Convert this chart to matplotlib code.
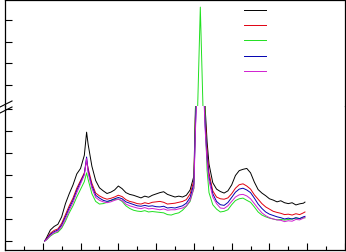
import numpy as np
import matplotlib
matplotlib.use("Agg")
import matplotlib.pyplot as plt
from matplotlib.lines import Line2D
from matplotlib.ticker import MultipleLocator

# --- dados ---
x = [10.5, 11, 12, 13, 14, 15, 16, 17, 18, 19, 20, 21, 21.6,
     22, 23, 24, 25, 26, 27, 28, 29, 30, 31, 32, 33, 34, 35, 36, 37, 38, 39,
     40, 41, 42, 43, 44, 45, 46, 47, 48, 49, 50,
     50.4, 51, 51.7, 52.4, 53, 53.5,
     54, 55, 56, 57, 58, 59, 60, 61, 62, 63, 64, 65, 66, 67, 68, 69, 70,
     71, 72, 73, 74, 75, 76, 77, 78, 79, 79.4]

preto = [0, 15, 50, 66, 76, 110, 170, 215, 255, 305, 330, 390, 495,
         440, 340, 275, 242, 228, 216, 222, 232, 250, 238, 220, 212, 208, 202, 196, 204, 199, 208,
         214, 220, 224, 212, 206, 200, 204, 200, 208, 232, 295,
         600, 850, 960, 850, 600, 450,
         350, 265, 236, 225, 218, 228, 255, 298, 320, 326, 330, 310, 268, 234, 218, 206, 192,
         186, 178, 183, 174, 170, 174, 164, 169, 172, 177]

vermelho = [0, 10, 35, 48, 55, 80, 120, 160, 195, 240, 275, 310, 365,
            330, 262, 218, 205, 196, 190, 194, 200, 208, 202, 188, 180, 176, 170, 168, 174, 170, 176,
            178, 180, 176, 168, 170, 172, 176, 180, 188, 214, 275,
            560, 800, 900, 800, 560, 400,
            310, 228, 200, 192, 190, 196, 215, 240, 256, 260, 250, 236, 210, 190, 170, 155, 145,
            135, 130, 126, 120, 122, 118, 124, 120, 128, 132]

verde = [0, 5, 22, 34, 40, 58, 90, 128, 160, 200, 235, 270, 310,
         280, 215, 180, 168, 170, 176, 184, 188, 191, 180, 160, 148, 140, 136, 134, 138, 132, 134,
         132, 130, 128, 120, 118, 124, 128, 140, 158, 180, 240,
         560, 1000, 10200, 1000, 540, 320,
         220, 165, 145, 132, 135, 142, 165, 184, 192, 195, 185, 176, 155, 132, 118, 110, 104,
         100, 96, 98, 95, 98, 100, 104, 102, 106, 105]

azul = [0, 8, 30, 42, 50, 72, 110, 150, 185, 230, 268, 305, 382,
        320, 250, 208, 195, 185, 180, 185, 192, 198, 192, 178, 172, 166, 160, 158, 162, 158, 160,
        156, 155, 158, 150, 152, 150, 155, 160, 172, 198, 260,
        520, 780, 880, 780, 520, 380,
        290, 215, 180, 165, 162, 175, 198, 222, 236, 240, 232, 220, 195, 168, 148, 132, 122,
        116, 110, 106, 100, 104, 100, 106, 102, 110, 112]

magenta = [0, 6, 25, 38, 45, 65, 100, 140, 175, 220, 260, 300, 375,
           310, 240, 198, 185, 178, 174, 178, 185, 190, 184, 168, 160, 155, 150, 147, 152, 146, 148,
           145, 142, 146, 140, 142, 142, 146, 150, 160, 185, 240,
           500, 760, 870, 760, 500, 360,
           275, 200, 170, 150, 148, 160, 180, 200, 210, 212, 205, 192, 170, 148, 128, 115, 106,
           100, 96, 94, 88, 92, 90, 98, 96, 104, 108]

series = [preto, vermelho, verde, azul, magenta]
cores = ["#000000", "#e00010", "#20e020", "#0000b0", "#d020d0"]

# --- figura com eixo y quebrado ---
fig = plt.figure(figsize=(3.46, 2.53), dpi=100)
ax_lo = fig.add_axes([5/346, 2/253, 340/346, 144/253])
ax_hi = fig.add_axes([5/346, 146/253, 340/346, 106/253])

linhas = []
for ys, c in zip(series, cores):
    l, = ax_lo.plot(x, ys, color=c, lw=0.7)
    ax_hi.plot(x, ys, color=c, lw=0.7)
    linhas.append(l)

for ax in (ax_lo, ax_hi):
    ax.set_xlim(0, 90)
    ax.xaxis.set_major_locator(MultipleLocator(10))
    ax.xaxis.set_minor_locator(MultipleLocator(5))
    ax.tick_params(which="both", direction="in", labelleft=False, labelbottom=False,
                   width=0.8, top=False, right=False)
    ax.tick_params(which="major", length=5)
    ax.tick_params(which="minor", length=3)
    for s in ax.spines.values():
        s.set_linewidth(0.9)

ax_lo.set_ylim(-41, 614)
ax_lo.yaxis.set_major_locator(MultipleLocator(100))
ax_lo.spines["top"].set_visible(False)

ax_hi.set_ylim(1047, 10860)
ax_hi.yaxis.set_major_locator(MultipleLocator(2000))
ax_hi.set_yticks([3000, 5000, 7000, 9000])
ax_hi.spines["bottom"].set_visible(False)
ax_hi.tick_params(which="both", bottom=False)

# marcas da quebra
for yb in (105, 111):
    fig.add_artist(Line2D([0/346, 12/346], [1 - (yb + 3)/253, 1 - (yb - 3)/253],
                          transform=fig.transFigure, color="k", lw=0.8))

ax_hi.legend(linhas, [" "] * 5, loc="upper left", bbox_to_anchor=(244/346, 1 - 6/253),
             bbox_transform=fig.transFigure, frameon=False, fontsize=7,
             handlelength=2.3, handletextpad=0, borderpad=0, borderaxespad=0,
             labelspacing=0.55)

plt.savefig("out.png", dpi=100)
